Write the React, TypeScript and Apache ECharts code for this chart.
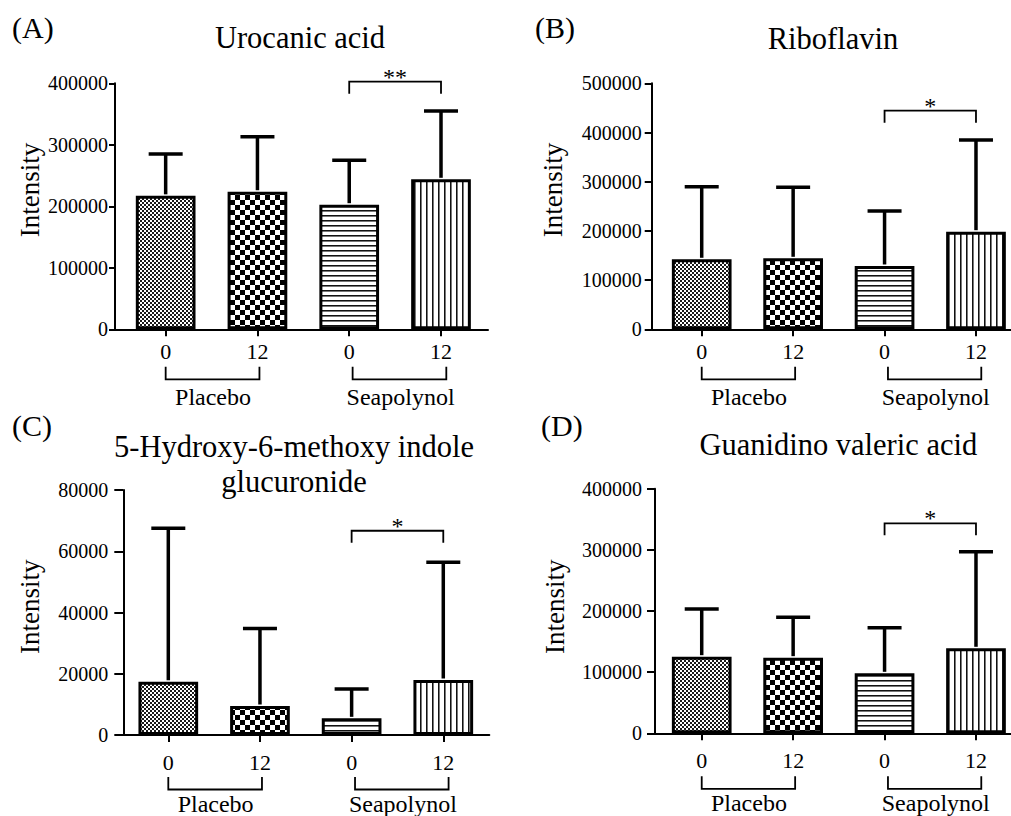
import React, { useEffect, useRef } from "react";
import * as echarts from "echarts";

// ---------- data ----------
const categories = ["0", "12", "0", "12"];
const groupNames = ["Placebo", "Seapolynol"];
const groupSpans = [
  [0, 1],
  [2, 3],
];
const panelLetters = ["(A)", "(B)", "(C)", "(D)"];
const panelTitles = [
  ["Urocanic acid"],
  ["Riboflavin"],
  ["5-Hydroxy-6-methoxy indole", "glucuronide"],
  ["Guanidino valeric acid"],
];
const yAxisName = "Intensity";
const yMaxes = [400000, 500000, 80000, 400000];
const yIntervals = [100000, 100000, 20000, 100000];

const urocanicMean = [217000, 223700, 202600, 243900];
const urocanicUpper = [285000, 313200, 274800, 355000];
const riboflavinMean = [142300, 144300, 128700, 198400];
const riboflavinUpper = [289800, 288600, 240400, 384800];
const indoleMean = [17400, 9470, 5440, 17960];
const indoleUpper = [67500, 34800, 15000, 56400];
const guanidinoMean = [125300, 123700, 98100, 139000];
const guanidinoUpper = [203300, 189700, 172700, 297000];

const means = [urocanicMean, riboflavinMean, indoleMean, guanidinoMean];
const uppers = [urocanicUpper, riboflavinUpper, indoleUpper, guanidinoUpper];

const significance = ["**", "*", "*", "*"];
const sigPair = [2, 3];
const sigLevel = [402600, 444300, 66700, 343400];

// ---------- layout ----------
const FONT = "Liberation Serif, serif";
const layouts = [
  { left: 115, top: 83.3, width: 373, height: 246, xMin: -0.552, xMax: 3.512, yLabelMargin: 7, yTick: 6, xLabelMargin: 11, br1: 37.4, br2: 50, grpY: 67.4, letterX: 12, letterY: 27, titleX: 300, titleY: [38], nameX: 30, nameY: 190 },
  { left: 651.7, top: 83.3, width: 359.3, height: 246, xMin: -0.547, xMax: 3.383, yLabelMargin: 10, yTick: 7, xLabelMargin: 11, br1: 37.4, br2: 50, grpY: 67.4, letterX: 535, letterY: 27, titleX: 833, titleY: [39.3], nameX: 553.3, nameY: 190 },
  { left: 123.3, top: 490, width: 366, height: 245, xMin: -0.491, xMax: 3.502, yLabelMargin: 15, yTick: 9, xLabelMargin: 16, br1: 42, br2: 54.5, grpY: 68.5, letterX: 12, letterY: 425, titleX: 294, titleY: [446.7, 481.7], nameX: 30, nameY: 606.7 },
  { left: 655, top: 488.7, width: 356, height: 244.6, xMin: -0.511, xMax: 3.383, yLabelMargin: 13, yTick: 8, xLabelMargin: 16, br1: 43, br2: 55.5, grpY: 70, letterX: 541, letterY: 425, titleX: 838.3, titleY: [445], nameX: 555, nameY: 606.7 },
];
const groupOffsets = [
  [0, 2],
  [3.4, 5.3],
];
const groupLabelShift = [1.5, 5.5];

function makePattern(kind: number) {
  const c = document.createElement("canvas");
  let w = 4, h = 4;
  if (kind === 1) { w = 10; h = 10; }
  if (kind === 2) { w = 5; h = 5; }
  if (kind === 3) { w = 6; h = 6; }
  c.width = w; c.height = h;
  const ctx = c.getContext("2d")!;
  ctx.fillStyle = "#fff";
  ctx.fillRect(0, 0, w, h);
  if (kind === 0) {
    ctx.fillStyle = "#1a1a1a";
    ctx.fillRect(0, 0, 2, 2);
    ctx.fillRect(2, 2, 2, 2);
  } else if (kind === 1) {
    ctx.fillStyle = "#000";
    ctx.fillRect(0, 0, 5, 5);
    ctx.fillRect(5, 5, 5, 5);
  } else if (kind === 2) {
    ctx.fillStyle = "#111";
    ctx.fillRect(0, 0, w, 1);
    ctx.fillStyle = "#777";
    ctx.fillRect(0, 1, w, 1);
  } else {
    ctx.fillStyle = "#111";
    ctx.fillRect(0, 0, 1, h);
    ctx.fillStyle = "#777";
    ctx.fillRect(1, 0, 1, h);
  }
  return { image: c, repeat: "repeat", imageWidth: w, imageHeight: h };
}

export default function App() {
  const ref = useRef<HTMLDivElement>(null);
  useEffect(() => {
    if (!ref.current) return;
    const chart = echarts.init(ref.current, null, { renderer: "svg" });
    const patterns = [0, 1, 2, 3].map((k) => makePattern(k));

    const grids: any[] = [];
    const xAxes: any[] = [];
    const yAxes: any[] = [];
    const series: any[] = [];
    const graphics: any[] = [];

    layouts.forEach((L, p) => {
      grids.push({ left: L.left, top: L.top, width: L.width, height: L.height, containLabel: false });
      xAxes.push({
        type: "value",
        gridIndex: p,
        min: L.xMin,
        max: L.xMax,
        splitLine: { show: false },
        axisLine: { show: true, onZero: false, lineStyle: { color: "#000", width: 2 } },
        axisTick: { show: true, customValues: [0, 1, 2, 3], length: 7, lineStyle: { color: "#000", width: 2 } },
        axisLabel: {
          customValues: [0, 1, 2, 3],
          formatter: (v: number) => categories[Math.round(v)] ?? "",
          fontSize: 22,
          fontFamily: FONT,
          color: "#000",
          margin: L.xLabelMargin,
        },
      });
      yAxes.push({
        type: "value",
        gridIndex: p,
        min: 0,
        max: yMaxes[p],
        interval: yIntervals[p],
        splitLine: { show: false },
        axisLine: { show: true, onZero: false, lineStyle: { color: "#000", width: 2 } },
        axisTick: { show: true, length: L.yTick, lineStyle: { color: "#000", width: 2 } },
        axisLabel: {
          fontSize: 20,
          fontFamily: FONT,
          color: "#000",
          margin: L.yLabelMargin,
          formatter: (v: number) => String(v),
        },
      });

      series.push({
        type: "bar",
        xAxisIndex: p,
        yAxisIndex: p,
        barWidth: 59.7,
        z: 2,
        data: means[p].map((m, i) => ({
          value: [i, m],
          itemStyle: { color: patterns[i], borderColor: "#000", borderWidth: 3 },
        })),
      });

      series.push({
        type: "custom",
        xAxisIndex: p,
        yAxisIndex: p,
        z: 3,
        clip: false,
        encode: { x: 0, y: [1, 2] },
        data: means[p].map((m, i) => [i, m, uppers[p][i]]),
        renderItem: (params: any, api: any) => {
          const x = api.value(0);
          const p1 = api.coord([x, api.value(1)]);
          const p2 = api.coord([x, api.value(2)]);
          return {
            type: "group",
            children: [
              { type: "line", shape: { x1: p1[0], y1: p1[1] - 1.5, x2: p2[0], y2: p2[1] }, style: { stroke: "#000", lineWidth: 3.5 } },
              { type: "line", shape: { x1: p2[0] - 17, y1: p2[1], x2: p2[0] + 17, y2: p2[1] }, style: { stroke: "#000", lineWidth: 3.5 } },
            ],
          };
        },
      });

      series.push({
        type: "custom",
        xAxisIndex: p,
        yAxisIndex: p,
        z: 3,
        clip: false,
        data: [[sigPair[0], sigPair[1], sigLevel[p]]],
        renderItem: (params: any, api: any) => {
          const a = api.coord([api.value(0), api.value(2)]);
          const b = api.coord([api.value(1), api.value(2)]);
          return {
            type: "group",
            children: [
              {
                type: "polyline",
                shape: { points: [[a[0], a[1] + 12], [a[0], a[1]], [b[0], b[1]], [b[0], b[1] + 12]] },
                style: { stroke: "#000", lineWidth: 1.8, fill: "none" },
              },
              {
                type: "text",
                style: {
                  text: significance[p],
                  x: (a[0] + b[0]) / 2,
                  y: a[1] - 5,
                  fontSize: 24,
                  fontFamily: FONT,
                  fill: "#000",
                  align: "center",
                  verticalAlign: "middle",
                },
              },
            ],
          };
        },
      });

      series.push({
        type: "custom",
        xAxisIndex: p,
        yAxisIndex: p,
        z: 3,
        clip: false,
        data: groupSpans.map((s, g) => [s[0], s[1], g]),
        renderItem: (params: any, api: any) => {
          const g = api.value(2);
          const a = api.coord([api.value(0), 0]);
          const b = api.coord([api.value(1), 0]);
          const y0 = a[1];
          const x1 = a[0] + groupOffsets[g][0];
          const x2 = b[0] + groupOffsets[g][1];
          return {
            type: "group",
            children: [
              {
                type: "polyline",
                shape: { points: [[x1, y0 + L.br1], [x1, y0 + L.br2], [x2, y0 + L.br2], [x2, y0 + L.br1]] },
                style: { stroke: "#000", lineWidth: 1.8, fill: "none" },
              },
              {
                type: "text",
                style: {
                  text: groupNames[g],
                  x: (a[0] + b[0]) / 2 + groupLabelShift[g],
                  y: y0 + L.grpY,
                  fontSize: 24,
                  fontFamily: FONT,
                  fill: "#000",
                  align: "center",
                  verticalAlign: "middle",
                },
              },
            ],
          };
        },
      });

      graphics.push({
        type: "text",
        x: L.letterX,
        y: L.letterY,
        style: { text: panelLetters[p], fontSize: 30, fontFamily: FONT, fill: "#000", align: "left", verticalAlign: "middle" },
      });
      panelTitles[p].forEach((t, k) => {
        graphics.push({
          type: "text",
          x: L.titleX,
          y: L.titleY[k],
          style: { text: t, fontSize: 30.5, fontFamily: FONT, fill: "#000", align: "center", verticalAlign: "middle" },
        });
      });
      graphics.push({
        type: "text",
        x: L.nameX,
        y: L.nameY,
        rotation: Math.PI / 2,
        style: { text: yAxisName, fontSize: 27, fontFamily: FONT, fill: "#000", align: "center", verticalAlign: "middle" },
      });
    });

    chart.setOption({
      animation: false,
      backgroundColor: "#fff",
      grid: grids,
      xAxis: xAxes,
      yAxis: yAxes,
      series,
      graphic: { elements: graphics },
    });
    return () => chart.dispose();
  }, []);
  return <div ref={ref} style={{ position: "fixed", left: 0, top: 0, width: 1011, height: 816 }} />;
}
